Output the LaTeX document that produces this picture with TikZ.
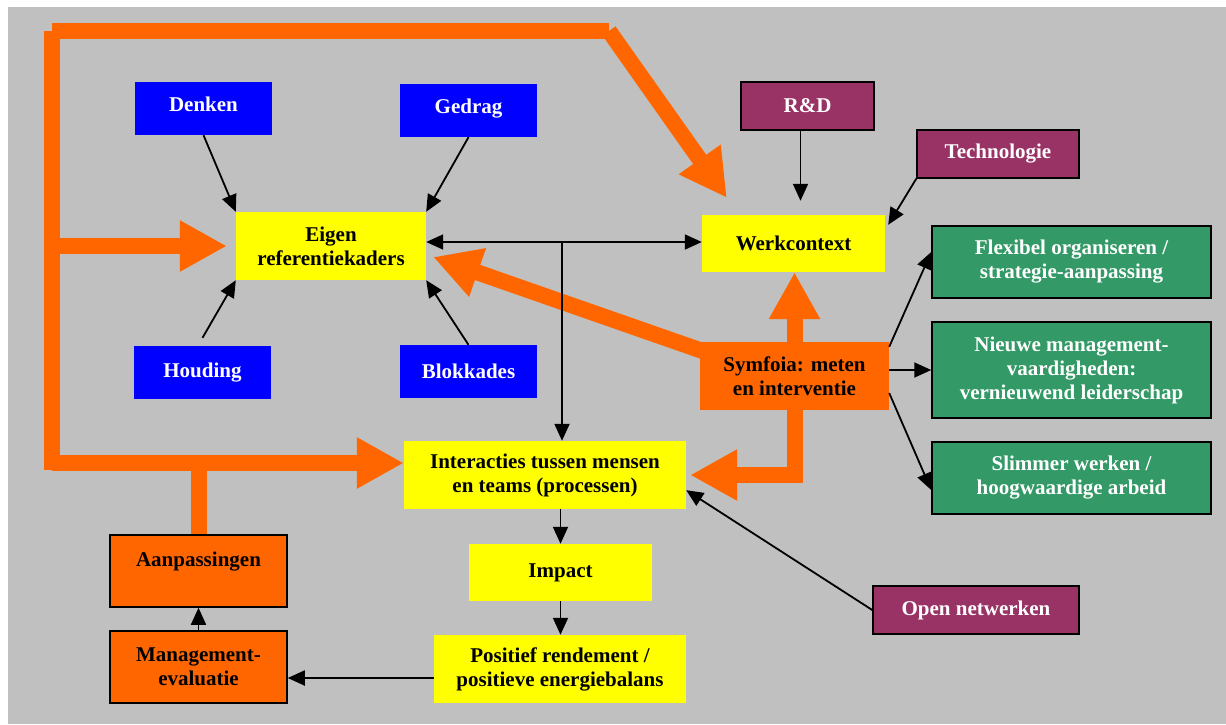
\documentclass[tikz,border=0pt]{standalone}
\usepackage{fontspec}
\setmainfont{Liberation Serif}
\usetikzlibrary{arrows.meta,calc}
\definecolor{bggray}{HTML}{C0C0C0}
\definecolor{orng}{HTML}{FF6600}
\definecolor{yel}{HTML}{FFFF00}
\definecolor{blu}{HTML}{0000FF}
\definecolor{purp}{HTML}{993366}
\definecolor{grn}{HTML}{339966}
\pgfdeclarelayer{back}
\pgfdeclarelayer{orangelayer}
\pgfsetlayers{back,orangelayer,main}
\begin{document}
\begin{tikzpicture}[x=1pt,y=-1pt,
  base/.style={inner sep=0pt, align=center, font=\fontsize{21}{24}\selectfont\bfseries},
  yelbox/.style={base, fill=yel, text=black},
  blubox/.style={base, fill=blu, text=white, minimum width=137pt, minimum height=53pt},
  purpbox/.style={base, fill=purp, draw=black, line width=1.5pt, text=white},
  grnbox/.style={base, fill=grn, draw=black, line width=1.5pt, text=white, minimum width=279pt},
  orbox/.style={base, fill=orng, text=black},
  orboxd/.style={base, fill=orng, draw=black, line width=1.5pt, text=black, minimum width=177pt, minimum height=72pt},
  conn/.style={draw=black, line width=1.8pt, -{Triangle[length=17pt,width=15pt]}},
  dconn/.style={draw=black, line width=1.8pt, {Triangle[length=17pt,width=15pt]}-{Triangle[length=17pt,width=15pt]}},
  bigarrow/.style={draw=orng, line width=16pt, -{Triangle[length=47pt,width=48pt]}},
  bigline/.style={draw=orng, line width=16pt}
]
\useasboundingbox (0,0) rectangle (1226,724);
\begin{pgfonlayer}{back}
  \fill[white] (0,0) rectangle (1226,724);
  \fill[bggray] (8,7) rectangle (1226,724);
\end{pgfonlayer}

% nodes
\node[blubox] (denken) at (203.5,108.5) {Denken\\[-15pt]\mbox{}};
\node[blubox] (gedrag) at (468.5,110.5) {Gedrag\\[-15pt]\mbox{}};
\node[blubox] (houding) at (202.5,372.5) {Houding};
\node[blubox] (blok) at (468.5,371.5) {Blokkades};
\node[yelbox, minimum width=190pt, minimum height=68pt] (eigen) at (331,246) {Eigen\\referentiekaders};
\node[yelbox, minimum width=183pt, minimum height=57pt] (werk) at (793.5,243.5) {Werkcontext};
\node[purpbox, minimum width=133pt, minimum height=48pt] (rd) at (807.5,106) {R\&D};
\node[purpbox, minimum width=162pt, minimum height=48pt] (tech) at (998,154) {Technologie};
\node[grnbox, minimum height=72pt] (flex) at (1071.5,262) {Flexibel organiseren /\\strategie-aanpassing};
\node[grnbox, minimum height=96pt] (nieuwe) at (1071.5,370) {Nieuwe management-\\vaardigheden:\\vernieuwend leiderschap};
\node[grnbox, minimum height=72pt] (slim) at (1071.5,478) {Slimmer werken /\\hoogwaardige arbeid};
\node[orbox, minimum width=189pt, minimum height=68pt] (symf) at (794.5,376) {Symfoia: meten\\en interventie};
\node[yelbox, minimum width=282pt, minimum height=68pt] (inter) at (545,475) {Interacties tussen mensen\\en teams (processen)};
\node[yelbox, minimum width=183pt, minimum height=57pt] (impact) at (560.5,572.5) {Impact};
\node[yelbox, minimum width=252pt, minimum height=68pt] (pos) at (560,669) {Positief rendement /\\positieve energiebalans};
\node[purpbox, minimum width=206pt, minimum height=48pt] (open) at (976,610) {Open netwerken};
\node[orboxd] (aanp) at (198.5,571) {Aanpassingen\\[0pt]\mbox{}};
\node[orboxd] (mgmt) at (198.5,667) {Management-\\evaluatie};

% orange arrows
\coordinate (tl) at (52,31);
\coordinate (bl) at (52,470);
\coordinate (tr) at (609,31);
\coordinate (wtip) at ([xshift=25pt,yshift=17pt]werk.north west);
\begin{pgfonlayer}{orangelayer}
  \draw[bigline] (bl) -- (tl);
  \draw[bigline] (tl) -- (tr);
  \draw[bigarrow] (tr) -- (wtip);
  \draw[bigarrow] (tl |- eigen.west) -- ([xshift=-9pt]eigen.west);
  \draw[bigarrow] ([yshift=7pt]bl) -- ([yshift=12pt]inter.west);
  \draw[bigline] (aanp.north) -- (aanp.north |- 0,463);
  \draw[bigarrow] ([xshift=20pt,yshift=19pt]symf.west) -- ([xshift=7pt,yshift=-11pt]eigen.east);
  \draw[bigarrow] (symf.north) -- (symf.north |- werk.south);
  \draw[bigarrow, line join=miter, shorten >=4pt] (symf.south) -- (symf.south |- inter.east) -- (inter.east);
\end{pgfonlayer}

% black connectors
\coordinate (j) at (562,242);
\draw[conn] (denken.south) -- (eigen.north west);
\draw[conn] (gedrag.south) -- (eigen.north east);
\draw[conn] ([yshift=8pt]houding.north) -- (eigen.south west);
\draw[conn] (blok.north) -- (eigen.south east);
\draw[dconn] (eigen.east |- j) -- (werk.west |- j);
\draw[conn] (j) -- (j |- inter.north);
\draw[conn, shorten >=14pt] ([xshift=-7pt]rd.south) -- ([xshift=-7pt]rd.south |- werk.north);
\draw[conn] (tech.south west) -- ([xshift=3pt,yshift=-10pt]werk.north east);
\draw[conn] ([yshift=-5pt]symf.north east) -- ([yshift=10pt]flex.west);
\draw[conn] (symf.east |- nieuwe.west) -- (nieuwe.west);
\draw[conn] ([yshift=-17pt]symf.east) -- ([yshift=-12pt]slim.west);
\draw[conn] (open.west) -- ([yshift=19pt]inter.south east);
\draw[conn] (impact.north |- inter.south) -- (impact.north);
\draw[conn] (impact.south) -- (pos.north -| impact.south);
\draw[conn] ([yshift=-9pt]pos.west) -- ([yshift=-9pt]pos.west -| mgmt.east);
\draw[conn] (mgmt.north) -- (aanp.south);
\end{tikzpicture}
\end{document}
